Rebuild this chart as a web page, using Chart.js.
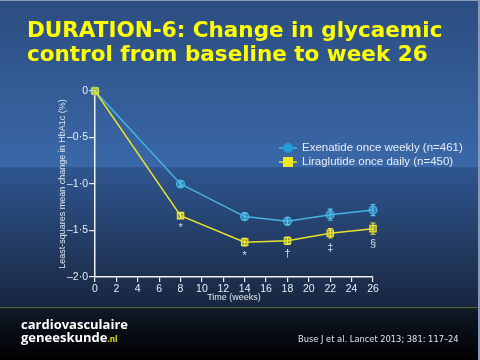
<!DOCTYPE html>
<html>
<head>
<meta charset="utf-8">
<script src="https://cdn.jsdelivr.net/npm/chart.js@4/dist/chart.umd.min.js"></script>
<style>
  html, body { margin: 0; padding: 0; background: #000; }
  #wrap { position: relative; width: 480px; height: 360px; overflow: hidden; }
  #c { position: absolute; left: 0; top: 0; }
  .t { position: absolute; white-space: nowrap; }
  #title { left: 27px; top: 18px; color: #ffff00; font: bold 21.5px "DejaVu Sans", Verdana, sans-serif; line-height: 24px; }
  #logo { left: 21px; top: 318px; color: #ffffff; font: bold 13px "Open Sans", sans-serif; line-height: 13px; }
  #logo span { color: #e8e000; font-size: 8px; }
  #cite { left: 298px; top: 334px; color: #dfe4ea; font: 8.3px "DejaVu Sans", sans-serif; }
</style>
</head>
<body>
<div id="wrap">
  <canvas id="c" width="480" height="360"></canvas>
  <div class="t" id="title">DURATION-6: Change in glycaemic<br>control from baseline to week 26</div>
  <div class="t" id="logo">cardiovasculaire<br>geneeskunde<span>.nl</span></div>
  <div class="t" id="cite">Buse J et al. Lancet 2013; 381: 117–24</div>
</div>
<script>
const weeks = [0, 8, 14, 18, 22, 26];
const exenatide = [0, -1.0, -1.35, -1.40, -1.33, -1.28];
const liraglutide = [0, -1.34, -1.625, -1.61, -1.53, -1.48];
const exenatideErr = [0, 0.03, 0.04, 0.04, 0.06, 0.06];
const liraglutideErr = [0, 0.03, 0.04, 0.04, 0.05, 0.06];
const significance = ['', '*', '*', '†', '‡', '§'];
const legendLabels = ['Exenatide once weekly (n=461)', 'Liraglutide once daily (n=450)'];
const xTitle = 'Time (weeks)';
const yTitle = 'Least-squares mean change in HbA1c (%)';

const CYAN = '#45b4e4';
const YELLOW = '#e8e22a';

const bgPlugin = {
  id: 'bg',
  beforeDraw(chart) {
    const ctx = chart.ctx;
    ctx.save();
    let g = ctx.createLinearGradient(0, 0, 0, 167);
    g.addColorStop(0, '#2c4d80');
    g.addColorStop(1, '#3a68a8');
    ctx.fillStyle = g; ctx.fillRect(0, 0, 480, 167);
    g = ctx.createLinearGradient(0, 167, 0, 307);
    g.addColorStop(0, '#2f5690');
    g.addColorStop(1, '#18263f');
    ctx.fillStyle = g; ctx.fillRect(0, 167, 480, 140);
    ctx.fillStyle = '#4f5e38'; ctx.fillRect(0, 307, 480, 1.5);
    g = ctx.createLinearGradient(0, 308, 0, 360);
    g.addColorStop(0, '#101a28');
    g.addColorStop(1, '#000000');
    ctx.fillStyle = g; ctx.fillRect(0, 308.5, 480, 52);
    ctx.fillStyle = '#8799b8';
    ctx.fillRect(478, 0, 2, 360);
    ctx.fillRect(0, 0, 480, 1);
    ctx.restore();
  }
};

const extrasPlugin = {
  id: 'extras',
  afterDatasetsDraw(chart) {
    const ctx = chart.ctx;
    const xs = chart.scales.x, ys = chart.scales.y;
    ctx.save();
    const sets = [[exenatide, exenatideErr, '#58c4f0'], [liraglutide, liraglutideErr, '#f4ee40']];
    sets.forEach(([vals, errs, col]) => {
      ctx.strokeStyle = col; ctx.lineWidth = 1.1;
      vals.forEach((v, i) => {
        if (!errs[i]) return;
        const x = xs.getPixelForValue(weeks[i]);
        const y1 = ys.getPixelForValue(v + errs[i]);
        const y2 = ys.getPixelForValue(v - errs[i]);
        ctx.beginPath();
        ctx.moveTo(x, y1); ctx.lineTo(x, y2);
        ctx.moveTo(x - 2.5, y1); ctx.lineTo(x + 2.5, y1);
        ctx.moveTo(x - 2.5, y2); ctx.lineTo(x + 2.5, y2);
        ctx.stroke();
      });
    });
    ctx.fillStyle = '#d9dee8';
    ctx.font = '11px "Liberation Sans", Arial, sans-serif';
    ctx.textAlign = 'center'; ctx.textBaseline = 'middle';
    significance.forEach((s, i) => {
      if (!s) return;
      const x = xs.getPixelForValue(weeks[i]);
      const y = ys.getPixelForValue(liraglutide[i] - liraglutideErr[i]) + 10;
      ctx.fillText(s, x, y);
    });
    const lx = 279, ly = [148, 162];
    ctx.lineWidth = 1.5;
    ctx.strokeStyle = CYAN;
    ctx.beginPath(); ctx.moveTo(lx, ly[0]); ctx.lineTo(lx + 18, ly[0]); ctx.stroke();
    ctx.fillStyle = '#1e9fd8';
    ctx.beginPath(); ctx.arc(lx + 9, ly[0], 5, 0, Math.PI * 2); ctx.fill();
    ctx.strokeStyle = YELLOW;
    ctx.beginPath(); ctx.moveTo(lx, ly[1]); ctx.lineTo(lx + 18, ly[1]); ctx.stroke();
    ctx.fillStyle = '#f2ea18';
    ctx.fillRect(lx + 4, ly[1] - 5, 10, 10);
    ctx.fillStyle = '#e8edf4';
    ctx.font = '11.5px "Liberation Sans", Arial, sans-serif';
    ctx.textAlign = 'left';
    legendLabels.forEach((t, i) => ctx.fillText(t, lx + 23, ly[i]));
    ctx.restore();
  }
};

const fmtY = v => v === 0 ? '0' : '–' + Math.abs(v).toFixed(1).replace('.', '·');

new Chart(document.getElementById('c'), {
  type: 'line',
  data: {
    datasets: [
      {
        label: legendLabels[1],
        data: weeks.map((w, i) => ({ x: w, y: liraglutide[i] })),
        borderColor: YELLOW, borderWidth: 1.5, clip: false,
        pointStyle: 'rect', pointRadius: 4.5,
        pointBackgroundColor: 'rgba(232,226,42,0.55)', pointBorderColor: YELLOW, pointBorderWidth: 1.2,
        order: 0
      },
      {
        label: legendLabels[0],
        data: weeks.map((w, i) => ({ x: w, y: exenatide[i] })),
        borderColor: CYAN, borderWidth: 1.5, clip: false,
        pointStyle: 'circle', pointRadius: 4,
        pointBackgroundColor: 'rgba(69,180,228,0.55)', pointBorderColor: CYAN, pointBorderWidth: 1.2,
        order: 1
      }
    ]
  },
  options: {
    responsive: false,
    animation: false,
    events: [],
    layout: { padding: { left: 0, right: 107, top: 91, bottom: 55 } },
    plugins: { legend: { display: false }, tooltip: { enabled: false } },
    scales: {
      x: {
        type: 'linear', min: 0, max: 26,
        afterFit(s) { s.height = 28; },
        border: { color: '#f0f0f0', width: 1.5 },
        grid: { drawOnChartArea: false, color: '#f0f0f0', tickLength: 5, lineWidth: 1.2 },
        ticks: { stepSize: 2, color: '#e8edf4', padding: 1, maxRotation: 0, autoSkip: false,
                 font: { family: '"Liberation Sans", Arial, sans-serif', size: 10.5 } },
        title: { display: true, text: xTitle, color: '#e0e6ee', padding: { top: 0, bottom: 2 },
                 font: { family: '"Liberation Sans", Arial, sans-serif', size: 9 } }
      },
      y: {
        min: -2, max: 0,
        afterFit(s) { s.width = 95; },
        border: { color: '#f0f0f0', width: 1.5 },
        grid: { drawOnChartArea: false, color: '#f0f0f0', tickLength: 6, lineWidth: 1.2 },
        ticks: { stepSize: 0.5, color: '#e8edf4', padding: 1, callback: fmtY,
                 font: { family: '"Liberation Sans", Arial, sans-serif', size: 10.5 } },
        title: { display: true, text: yTitle, color: '#e0e6ee', padding: { top: 57, bottom: 0 },
                 font: { family: '"Liberation Sans", Arial, sans-serif', size: 9 } }
      }
    }
  },
  plugins: [bgPlugin, extrasPlugin]
});
</script>
</body>
</html>
